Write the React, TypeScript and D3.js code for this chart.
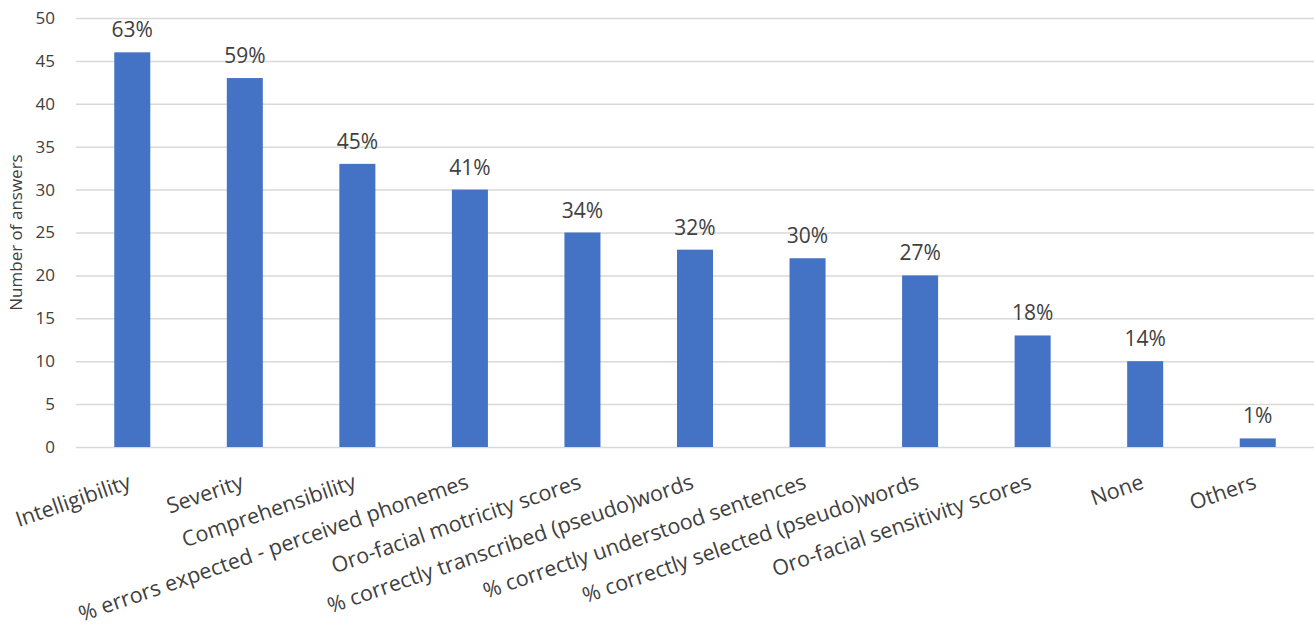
import * as d3 from "d3";
import { useEffect, useRef } from "react";

const categories = [
    "Intelligibility",
    "Severity",
    "Comprehensibility",
    "% errors expected - perceived phonemes",
    "Oro-facial motricity scores",
    "% correctly transcribed (pseudo)words",
    "% correctly understood sentences",
    "% correctly selected (pseudo)words",
    "Oro-facial sensitivity scores",
    "None",
    "Others",
];
const answers = [46, 43, 33, 30, 25, 23, 22, 20, 13, 10, 1];
const percents = ["63%", "59%", "45%", "41%", "34%", "32%", "30%", "27%", "18%", "14%", "1%"];
const yTicks = [0, 5, 10, 15, 20, 25, 30, 35, 40, 45, 50];

const width = 1314;
const height = 632;
const margin = { top: 18, right: 0, bottom: 185, left: 76 };
const font = "'Open Sans', sans-serif";
const textColor = "#404040";

export default function App() {
    const svgRef = useRef(null);

    useEffect(() => {
        document.body.style.margin = "0";
        const svg = d3.select(svgRef.current);
        svg.selectAll("*").remove();

        const x = d3.scaleBand<string>()
            .domain(categories)
            .range([margin.left, width - margin.right])
            .paddingInner(0.68)
            .paddingOuter(0.34);
        const y = d3.scaleLinear().domain([0, 50]).range([height - margin.bottom, margin.top]);

        // grid + y labels
        const yAxis = svg.append("g")
            .attr("transform", `translate(${margin.left},0)`)
            .call(d3.axisLeft(y).tickValues(yTicks).tickSize(-(width - margin.left - margin.right)).tickPadding(21))
            .call(g => g.select(".domain").remove())
        yAxis.selectAll(".tick line").attr("stroke", "#d9d9d9").attr("stroke-width", 1.5);
        yAxis.selectAll(".tick text")
            .attr("fill", textColor)
            .style("font-family", font)
            .style("font-size", "17px");

        // bars
        svg.append("g").selectAll("rect")
            .data(answers)
            .join("rect")
            .attr("x", (d, i) => x(categories[i])!)
            .attr("y", d => y(d))
            .attr("width", x.bandwidth())
            .attr("height", d => y(0) - y(d))
            .attr("fill", "#4472c4");

        // percent labels
        svg.append("g").selectAll("text")
            .data(answers)
            .join("text")
            .attr("x", (d, i) => x(categories[i])! + x.bandwidth() / 2)
            .attr("y", d => y(d) - 15)
            .attr("text-anchor", "middle")
            .attr("fill", textColor)
            .style("font-family", font)
            .style("font-size", "21px")
            .text((d, i) => percents[i]);

        // category labels, rotated
        svg.append("g").selectAll("text")
            .data(categories)
            .join("text")
            .attr("text-anchor", "end")
            .attr("transform", d => `translate(${x(d)! + x.bandwidth() / 2},${y(0) + 41}) rotate(-19)`)
            .attr("fill", textColor)
            .style("font-family", font)
            .style("font-size", "21.5px")
            .text(d => d);

        // y title
        svg.append("text")
            .attr("text-anchor", "middle")
            .attr("transform", `translate(22,${(y(0) + y(50)) / 2}) rotate(-90)`)
            .attr("fill", textColor)
            .style("font-family", font)
            .style("font-size", "17px")
            .text("Number of answers");
    }, []);

    return <svg ref={svgRef} width={width} height={height} style={{ display: "block", background: "#fff" }}></svg>;
}
